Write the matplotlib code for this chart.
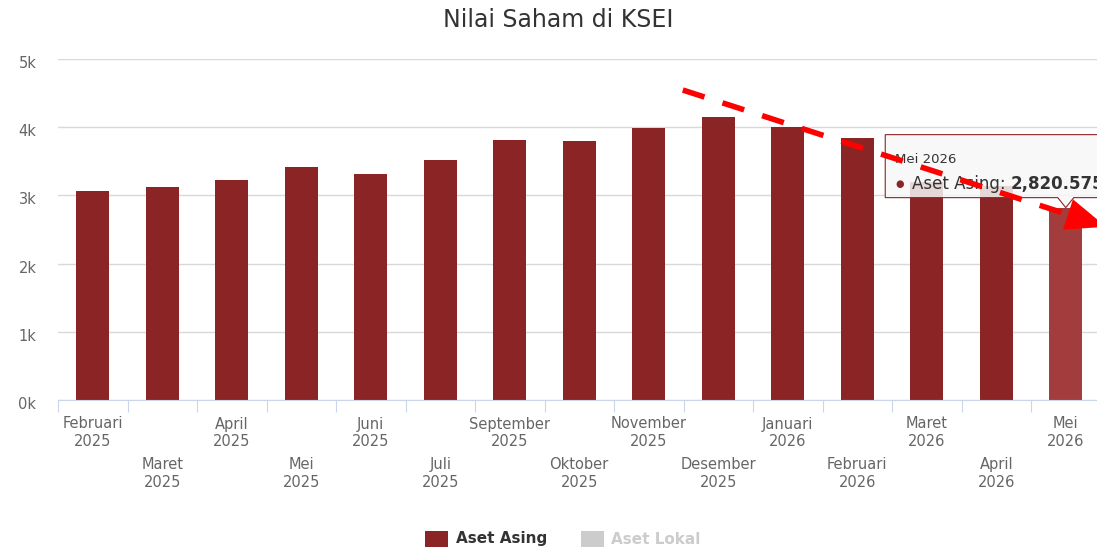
import matplotlib
matplotlib.use("Agg")
import matplotlib.pyplot as plt
import matplotlib.transforms as mtransforms
from matplotlib.patches import Polygon, Rectangle
from matplotlib.lines import Line2D
import numpy as np

plt.rcParams["font.family"] = ["DejaVu Sans"]

# data
bulan = ["Februari\n2025", "Maret\n2025", "April\n2025", "Mei\n2025", "Juni\n2025",
         "Juli\n2025", "September\n2025", "Oktober\n2025", "November\n2025",
         "Desember\n2025", "Januari\n2026", "Februari\n2026", "Maret\n2026",
         "April\n2026", "Mei\n2026"]
aset_asing = [3060, 3120, 3230, 3420, 3310, 3520, 3810, 3800, 3990,
              4150, 4010, 3840, 3190, 3140, 2820.575]
y_ticks = [0, 1000, 2000, 3000, 4000, 5000]
seri = ["Aset Asing", "Aset Lokal"]

# panah putus-putus (koordinat data)
panah_awal = (8.49, 4545)
panah_ujung = (14.58, 2540)

warna_asing = "#8b2525"
warna_hover = "#a33c3c"
warna_lokal = "#cccccc"

W, H = 1097, 550
fig = plt.figure(figsize=(W / 100, H / 100), dpi=100)
ax = fig.add_axes([58 / W, 150 / H, 1042.5 / W, 341 / H])

n = len(bulan)
x = np.arange(n)
colors = [warna_asing] * (n - 1) + [warna_hover]
ax.bar(x, aset_asing, width=0.475, color=colors, zorder=2)

ax.set_xlim(-0.5, n - 0.5)
ax.set_ylim(0, 5000)
ax.set_yticks(y_ticks)
ax.set_yticklabels([f"{v // 1000}k" for v in y_ticks])
ax.yaxis.grid(True, color="#d8d8d8", lw=1, zorder=0)
ax.set_axisbelow(True)
for s in ["top", "right", "left"]:
    ax.spines[s].set_visible(False)
ax.spines["bottom"].set_color("#ccd6eb")
ax.spines["bottom"].set_zorder(3)

ax.set_xticks(np.arange(-0.5, n, 1))
ax.set_xticklabels([])
ax.tick_params(axis="x", length=8.6, color="#ccd6eb", width=0.8)
ax.tick_params(axis="y", length=0, pad=15.5, labelsize=10.5, labelcolor="#666666")
geser = mtransforms.ScaledTranslation(0, -3 / 100, fig.dpi_scale_trans)
for lbl in ax.get_yticklabels():
    lbl.set_transform(lbl.get_transform() + geser)

# label bulan bertingkat
for i, lbl in enumerate(bulan):
    off = -33 if i % 2 == 0 else -73.5
    ax.annotate(lbl, xy=(i, 0), xycoords=("data", "axes fraction"),
                xytext=(0, off), textcoords="offset pixels",
                ha="center", va="center", fontsize=10.5, color="#666666",
                linespacing=1.25, annotation_clip=False)

fig.text(558 / W, 1 - 20 / H, "Nilai Saham di KSEI", ha="center", va="center",
         fontsize=17, color="#333333")

ident = mtransforms.IdentityTransform()

# tooltip
ax_x, ax_y = ax.transData.transform((n - 1, aset_asing[-1]))
L, R = ax_x - 180.5, ax_x + 60
B, T = ax_y + 10, ax_y + 73
tip_pts = [(L, B), (ax_x - 8, B), (ax_x, ax_y), (ax_x + 8, B), (R, B), (R, T), (L, T)]
tooltip = Polygon(tip_pts, closed=True, transform=ident, fc=(0.97, 0.97, 0.97, 0.85),
                  ec=warna_asing, lw=0.8, zorder=1)
fig.add_artist(tooltip)
fig.text(ax_x - 171, ax_y + 47.7, "Mei 2026", transform=ident, va="center",
         fontsize=9.5, color="#333333", zorder=3)
fig.text(ax_x - 166, ax_y + 24, "\u25cf", transform=ident, va="center", ha="center",
         fontsize=7, color=warna_asing, zorder=3)
t_lbl = fig.text(ax_x - 154, ax_y + 23.7, "Aset Asing: ", transform=ident, va="center",
                 fontsize=12, color="#333333", zorder=3)
renderer = fig.canvas.get_renderer()
x1 = t_lbl.get_window_extent(renderer).x1
nilai = f"{aset_asing[-1]:,.3f}"
fig.text(x1, ax_y + 23.7, nilai, transform=ident, va="center",
         fontsize=12, fontweight="bold", color="#333333", zorder=3)

# panah merah
p0 = np.array(ax.transData.transform(panah_awal))
p1 = np.array(ax.transData.transform(panah_ujung))
u = (p1 - p0) / np.linalg.norm(p1 - p0)
perp = np.array([-u[1], u[0]])
basis = p1 - 40 * u
garis = Line2D([p0[0], basis[0]], [p0[1], basis[1]], transform=ident, color="red",
               lw=4, dashes=(4.1, 3.4), solid_capstyle="butt", dash_capstyle="butt",
               zorder=5)
fig.add_artist(garis)
kepala = Polygon([p1, basis + perp * 16, basis - perp * 16], closed=True,
                 transform=ident, fc="red", ec="none", zorder=5)
fig.add_artist(kepala)

# legenda
for kx, tx, warna, teks_warna, nama in [(425, 456, warna_asing, "#333333", seri[0]),
                                         (581, 611, warna_lokal, "#cccccc", seri[1])]:
    fig.add_artist(Rectangle((kx, 3), 23, 16, transform=ident, fc=warna, ec="none"))
    fig.text(tx, 11, nama, transform=ident, va="center", fontsize=11,
             fontweight="bold", color=teks_warna)

fig.savefig("out.png", dpi=100)
